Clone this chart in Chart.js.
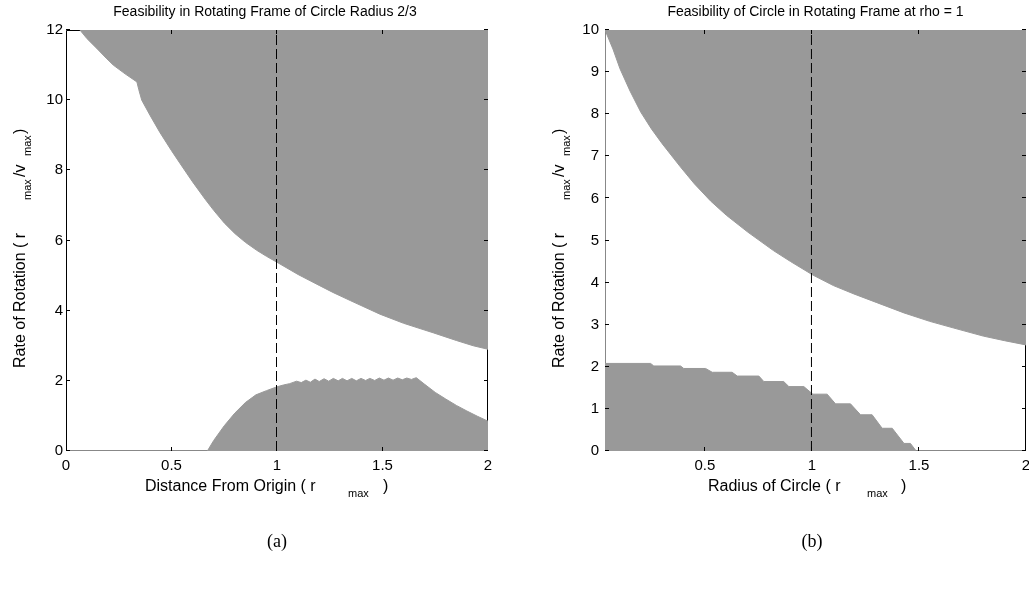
<!DOCTYPE html>
<html><head><meta charset="utf-8">
<script src="https://cdn.jsdelivr.net/npm/chart.js@4.4.1/dist/chart.umd.min.js"></script>
<style>
html,body{margin:0;padding:0;background:#fff;}
body{width:1029px;height:590px;position:relative;overflow:hidden;}
canvas{position:absolute;top:0;}
#c1{left:0;} #c2{left:520px;}
</style></head><body>
<canvas id="c1" width="520" height="590"></canvas>
<canvas id="c2" width="509" height="590"></canvas>
<script>
// ---------- data ----------
const leftTitle = "Feasibility in Rotating Frame of Circle Radius 2/3";
const rightTitle = "Feasibility of Circle in Rotating Frame at rho = 1";

const leftUpperX = [0.066,0.10,0.145,0.19,0.224,0.28,0.336,0.345,0.359,0.40,0.445,0.50,0.54,0.60,0.659,0.70,0.75,0.80,0.85,0.904,0.95,1.0,1.1,1.2,1.265,1.35,1.488,1.6,1.74,1.85,1.93,2.0];
const leftUpperY = [12,11.75,11.48,11.2,11.0,10.75,10.52,10.3,10.0,9.55,9.08,8.56,8.2,7.67,7.18,6.86,6.5,6.2,5.95,5.72,5.55,5.38,5.03,4.72,4.52,4.28,3.9,3.64,3.37,3.15,3.0,2.9];

const leftLowerX = [0.67,0.70,0.75,0.80,0.85,0.90,0.95,1.00,1.03,1.06,1.093,1.115,1.137,1.158,1.18,1.20,1.223,1.245,1.267,1.29,1.31,1.332,1.354,1.376,1.398,1.42,1.44,1.463,1.485,1.507,1.528,1.55,1.572,1.594,1.615,1.637,1.66,1.70,1.75,1.80,1.85,1.90,1.95,2.00];
const leftLowerY = [0,0.3,0.72,1.08,1.38,1.6,1.72,1.83,1.88,1.92,1.99,1.95,2.02,1.96,2.05,1.98,2.06,1.99,2.07,2.0,2.07,2.0,2.07,2.0,2.07,2.01,2.07,2.01,2.08,2.02,2.08,2.02,2.08,2.03,2.08,2.04,2.09,1.9,1.67,1.48,1.3,1.14,0.99,0.85];

const rightUpperX = [0.033,0.07,0.103,0.15,0.2,0.25,0.3,0.385,0.45,0.526,0.6,0.7,0.82,0.9,1.004,1.1,1.196,1.3,1.43,1.55,1.663,1.8,1.9,2.0];
const rightUpperY = [10,9.55,9.08,8.55,8.05,7.65,7.3,6.75,6.35,5.94,5.6,5.2,4.76,4.5,4.18,3.93,3.73,3.53,3.28,3.08,2.92,2.73,2.62,2.52];

const rightLowerX = [0.033,0.246,0.261,0.386,0.401,0.503,0.534,0.627,0.651,0.752,0.775,0.868,0.892,0.962,1.004,1.071,1.11,1.18,1.227,1.281,1.328,1.375,1.43,1.46,1.487];
const rightLowerY = [2.08,2.08,2.02,2.02,1.96,1.96,1.87,1.87,1.78,1.78,1.65,1.65,1.53,1.53,1.35,1.35,1.12,1.12,0.86,0.86,0.54,0.54,0.18,0.18,0];

const leftXTicks = [0,0.5,1,1.5,2];
const leftYTicks = [0,2,4,6,8,10,12];
const rightXTicks = [0.5,1,1.5,2];
const rightYTicks = [0,1,2,3,4,5,6,7,8,9,10];
const markerX = [1,1];
const leftMarkerY = [0,12];
const rightMarkerY = [0,10];

// ---------- helpers ----------
const GRAY = '#999999';
const FONT = '"Liberation Sans", Arial, Helvetica, sans-serif';
Chart.defaults.font.family = FONT;
Chart.defaults.color = '#000';

function pts(xs, ys){ return xs.map((x,i)=>({x:x, y:ys[i]})); }

function hline(ctx,x1,y1,x2,y2,color){
  ctx.strokeStyle=color; ctx.beginPath(); ctx.moveTo(x1,y1); ctx.lineTo(x2,y2); ctx.stroke();
}

const framePlugin = {
  id:'frame',
  beforeDatasetsDraw(chart,args,o){
    const ctx=chart.ctx, a=chart.chartArea;
    const L=Math.round(a.left)+0.5, R=Math.round(a.right)-0.5, T=Math.round(a.top)+0.5, B=Math.round(a.bottom)-0.5;
    ctx.save(); ctx.lineWidth=1;
    hline(ctx,L,T,R,T,'#000');
    hline(ctx,R,T,R,B,'#000');
    hline(ctx,L,T,L,B,o.leftColor);
    hline(ctx,L,B,R,B,o.bottomColor);
    ctx.restore();
  },
  beforeDatasetDraw(chart,args){
    if (args.index===0){ chart.ctx.save(); chart.ctx.translate(-0.5,0); }
  },
  afterDatasetDraw(chart,args){
    if (args.index===0){ chart.ctx.restore(); }
  },
  afterDatasetsDraw(chart,args,o){
    const ctx=chart.ctx, a=chart.chartArea, xs=chart.scales.x, ys=chart.scales.y;
    const len=4;
    ctx.save(); ctx.lineWidth=1; ctx.strokeStyle='#000';
    xs.ticks.forEach(t=>{
      const p=Math.round(xs.getPixelForValue(t.value))-0.5;
      if (p<=a.left+1 || p>=a.right-1) return;
      hline(ctx,p,a.bottom,p,a.bottom-len,'#000');
      hline(ctx,p,a.top,p,a.top+len,'#000');
    });
    ys.ticks.forEach(t=>{
      const p=Math.round(ys.getPixelForValue(t.value))-0.5;
      hline(ctx,a.left,p,a.left+len,p,'#000');
      hline(ctx,a.right,p,a.right-len,p,'#000');
    });
    ctx.restore();
  },
  afterDraw(chart,args,o){
    const ctx=chart.ctx;
    ctx.save(); ctx.fillStyle='#000'; ctx.textAlign='left'; ctx.textBaseline='alphabetic';
    const xt=o.xTitle;
    ctx.save(); ctx.translate(xt.x, xt.y);
    xt.parts.forEach(p=>{ ctx.font=p.size+'px '+FONT; ctx.fillText(p.t,p.dx,p.dy||0); });
    ctx.restore();
    const yt=o.yTitle;
    ctx.save(); ctx.translate(yt.x, yt.y); ctx.rotate(-Math.PI/2);
    yt.parts.forEach(p=>{ ctx.font=p.size+'px '+FONT; ctx.fillText(p.t,p.dx,p.dy||0); });
    ctx.restore();
    ctx.font='18px "Liberation Serif", "DejaVu Serif", serif';
    ctx.textAlign='center'; ctx.textBaseline='middle';
    ctx.fillText(o.caption, o.captionX, 542);
    ctx.restore();
  }
};

function makeChart(id, cfg){
  return new Chart(document.getElementById(id), {
    type:'line',
    data:{datasets:[
      {data:pts(markerX,cfg.markerY), borderColor:'#000', borderWidth:1, borderDash:[10,4], pointRadius:0, fill:false, order:0},
      {data:pts(cfg.upX,cfg.upY), borderColor:GRAY, backgroundColor:GRAY, borderWidth:1, pointRadius:0, fill:'end', tension:0, order:1},
      {data:pts(cfg.loX,cfg.loY), borderColor:GRAY, backgroundColor:GRAY, borderWidth:1, pointRadius:0, fill:'origin', tension:0, order:1}
    ]},
    options:{
      responsive:false, animation:false, devicePixelRatio:1,
      layout:{padding:cfg.padding},
      plugins:{
        legend:{display:false}, tooltip:{enabled:false},
        title:{display:true, fullSize:cfg.titleFull, text:cfg.title, color:'#000', font:{size:14, weight:'normal', family:FONT, lineHeight:1.2}, padding:{top:4,bottom:9.2}},
        frame:cfg.frame
      },
      scales:{
        x:{type:'linear', min:cfg.xmin, max:2,
           grid:{display:false, drawTicks:false}, border:{display:false},
           ticks:{font:{size:15, family:FONT}, padding:6, maxRotation:0, autoSkip:false, callback:(v)=>String(v)},
           afterBuildTicks:(s)=>{ s.ticks = cfg.xTicks.map(v=>({value:v})); },
           afterFit:(s)=>{ s.height=30; s.paddingLeft=0; s.paddingRight=0; }},
        y:{type:'linear', min:0, max:cfg.ymax,
           grid:{display:false, drawTicks:false}, border:{display:false},
           ticks:{font:{size:15, family:FONT}, padding:cfg.yPad, autoSkip:false, callback:(v)=>String(v)},
           afterBuildTicks:(s)=>{ s.ticks = cfg.yTicks.map(v=>({value:v})); },
           afterFit:(s)=>{ s.width=cfg.yWidth; }}
      }
    },
    plugins:[framePlugin]
  });
}

makeChart('c1', {
  title:leftTitle, titleFull:true, xmin:0, ymax:12, markerY:leftMarkerY,
  upX:leftUpperX, upY:leftUpperY, loX:leftLowerX, loY:leftLowerY,
  xTicks:leftXTicks, yTicks:leftYTicks, yWidth:24, yPad:3,
  padding:{left:42, right:32, top:0, bottom:109},
  frame:{leftColor:'#000', bottomColor:'#888', caption:'(a)', captionX:277,
    xTitle:{x:145, y:491, parts:[{t:'Distance From Origin ( r',size:16,dx:0},{t:'max',size:11,dx:203,dy:6},{t:')',size:16,dx:238}]},
    yTitle:{x:25, y:368, parts:[{t:'Rate of Rotation ( r',size:16,dx:0},{t:'max',size:11,dx:168,dy:6},{t:'/v',size:16,dx:191},{t:'max',size:11,dx:212,dy:6},{t:')',size:16,dx:234}]}
  }
});

makeChart('c2', {
  title:rightTitle, titleFull:false, xmin:0.033, ymax:10, markerY:rightMarkerY,
  upX:rightUpperX, upY:rightUpperY, loX:rightLowerX, loY:rightLowerY,
  xTicks:rightXTicks, yTicks:rightYTicks, yWidth:85, yPad:6,
  padding:{left:0, right:3, top:0, bottom:109},
  frame:{leftColor:'#888', bottomColor:'#888', caption:'(b)', captionX:292,
    xTitle:{x:188, y:491, parts:[{t:'Radius of Circle ( r',size:16,dx:0},{t:'max',size:11,dx:159,dy:6},{t:')',size:16,dx:193}]},
    yTitle:{x:44, y:368, parts:[{t:'Rate of Rotation ( r',size:16,dx:0},{t:'max',size:11,dx:168,dy:6},{t:'/v',size:16,dx:191},{t:'max',size:11,dx:212,dy:6},{t:')',size:16,dx:234}]}
  }
});
</script>
</body></html>
